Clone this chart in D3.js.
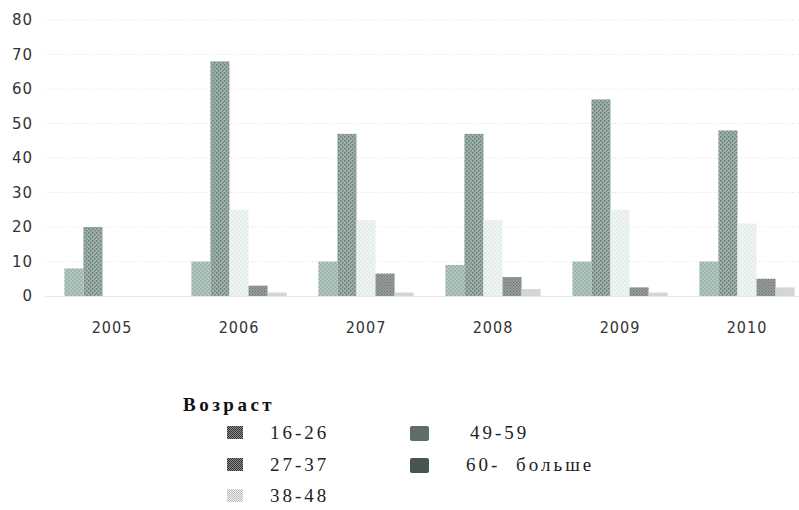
<!DOCTYPE html>
<html><head><meta charset="utf-8">
<script src="https://cdn.jsdelivr.net/npm/d3@7/dist/d3.min.js"></script>
<style>body{margin:0;background:#fff}svg{display:block}</style>
</head><body>
<svg id="c" width="799" height="510"></svg>
<script>
const years = ["2005","2006","2007","2008","2009","2010"];
const seriesNames = ["16-26","27-37","38-48","49-59","60- больше"];
const s1626 = [8, 10, 10, 9, 10, 10];
const s2737 = [20, 68, 47, 47, 57, 48];
const s3848 = [0, 25, 22, 22, 25, 21];
const s4959 = [0, 3, 6.5, 5.5, 2.5, 5];
const s60 = [0, 1, 1, 2, 1, 2.5];
const yTicks = [0,10,20,30,40,50,60,70,80];
const seriesValues = [s1626, s2737, s3848, s4959, s60];

const svg = d3.select("#c");
const defs = svg.append("defs");
function pat(id, base, dot, size, r){
  const p = defs.append("pattern").attr("id", id).attr("patternUnits","userSpaceOnUse")
    .attr("width", size).attr("height", size);
  p.append("rect").attr("width", size).attr("height", size).attr("fill", base);
  p.append("rect").attr("x",0).attr("y",0).attr("width",r).attr("height",r).attr("fill",dot);
  p.append("rect").attr("x",size/2).attr("y",size/2).attr("width",r).attr("height",r).attr("fill",dot);
}
pat("p1", "#b0c8c0", "#9db3ab", 4, 2);
pat("p2", "#9cafa8", "#6a7d76", 4, 1.5);
pat("p3", "#eef4f2", "#e5ecea", 4, 2);
pat("p4", "#9ca29e", "#69706c", 3, 1.2);
pat("p5", "#d8dcda", "#c6cbc8", 3, 1.2);
pat("l1", "#8c8c8c", "#333", 2, 1);
pat("l2", "#8c8c8c", "#333", 2, 1);
pat("l3", "#f0f0f0", "#bdbdbd", 2, 1);
const fills = ["url(#p1)","url(#p2)","url(#p3)","url(#p4)","url(#p5)"];
const legendFills = ["url(#l1)","url(#l2)","url(#l3)","#5f6e69","#46554f"];

const y = d3.scaleLinear().domain([0,80]).range([296,20]);
const x = d3.scaleBand().domain(years).range([48.5, 810.5]).paddingInner(0.25).paddingOuter(0.125);
const xs = d3.scaleBand().domain(d3.range(5)).range([0, x.bandwidth()]);

// gridlines (faint dotted)
svg.append("g").selectAll("line").data(yTicks.filter(d=>d>0)).join("line")
  .attr("x1", 45).attr("x2", 799).attr("y1", d=>y(d)).attr("y2", d=>y(d))
  .attr("stroke", "#e2e2e2").attr("stroke-dasharray", "1,2").attr("stroke-width",1);

// y axis
const ya = svg.append("g").attr("transform","translate(33,0)")
  .call(d3.axisLeft(y).tickValues(yTicks).tickSize(0).tickPadding(0));
ya.select(".domain").remove();
ya.selectAll("text").attr("font-family","DejaVu Sans, sans-serif").attr("font-size",15)
  .attr("letter-spacing","1px").attr("fill","#333");

// bars
const g = svg.append("g");
years.forEach((yr, i) => {
  seriesValues.forEach((vals, k) => {
    if (vals[i] <= 0) return;
    g.append("rect")
      .attr("x", x(yr) + xs(k)).attr("width", xs.bandwidth())
      .attr("y", y(vals[i])).attr("height", y(0) - y(vals[i]))
      .attr("fill", fills[k]);
  });
});

// baseline faint
svg.append("line").attr("x1",45).attr("x2",799).attr("y1",y(0)+0.5).attr("y2",y(0)+0.5)
  .attr("stroke","#e8e8e8");

// x axis
const xa = svg.append("g").attr("transform","translate(0,322)")
  .call(d3.axisBottom(x).tickSize(0).tickPadding(0));
xa.select(".domain").remove();
xa.selectAll("text").attr("font-family","Liberation Sans Narrow, DejaVu Sans Condensed, sans-serif")
  .attr("font-size",16).attr("fill","#333").attr("letter-spacing","1px").attr("dy","0.71em");

// legend
svg.append("text").attr("x",183).attr("y",411).text("Возраст")
  .attr("font-family","Liberation Serif, serif").attr("font-weight","bold").attr("font-size",19)
  .attr("letter-spacing","3.5px").attr("fill","#111");
const legPos = [[227,270,433],[227,270,465],[227,270,496],[410,470,433],[410,466,465]];
seriesNames.forEach((n,k)=>{
  const [sx, tx, ty] = legPos[k];
  svg.append("rect").attr("x",sx).attr("y",ty-7).attr("width",k>=3?19:16).attr("height",k>=3?15:13)
    .attr("fill",legendFills[k]).attr("rx", k>=3?2:0);
  svg.append("text").attr("x",tx).attr("y",ty+6).text(n)
    .attr("font-family","Liberation Serif, serif").attr("font-size",19)
    .attr("letter-spacing","3px").attr("word-spacing","8px").attr("fill","#222");
});
</script>
</body></html>
